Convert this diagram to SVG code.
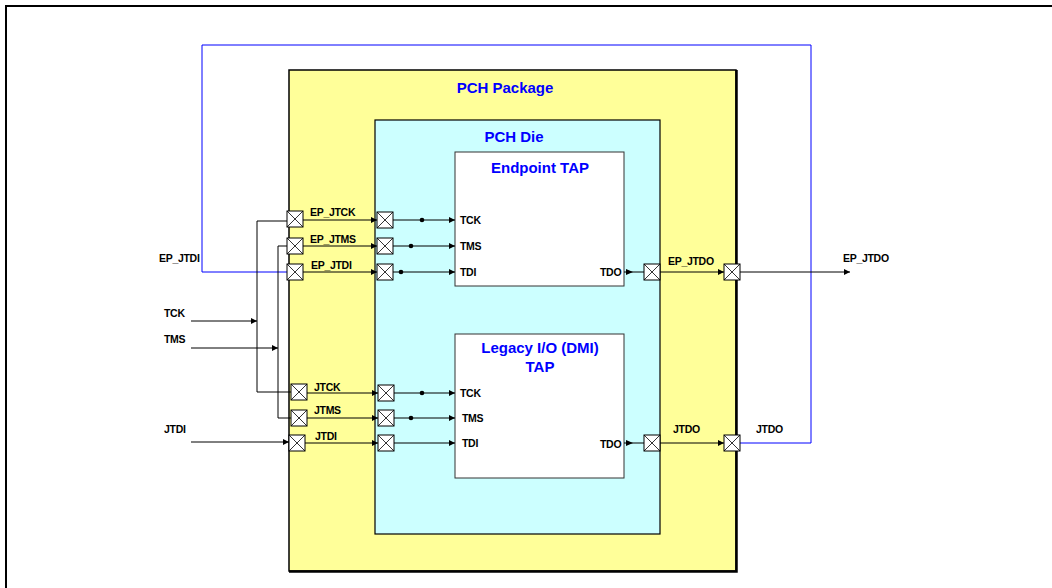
<svg xmlns="http://www.w3.org/2000/svg" width="1052" height="588" viewBox="0 0 1052 588">
<defs>
<marker id="ah" viewBox="0 0 10 10" refX="10" refY="5" markerWidth="8" markerHeight="6" markerUnits="userSpaceOnUse" orient="auto"><path d="M0,0 L10,5 L0,10 z" fill="#000"/></marker>
<g id="pad"><rect x="-8" y="-8" width="16" height="16" fill="#fff" stroke="#000" stroke-width="1"/><path d="M-8,-8 L8,8 M8,-8 L-8,8" stroke="#000" stroke-width="0.8"/></g>
</defs>
<style>
.t{font-family:"Liberation Sans",Arial,sans-serif;font-weight:bold;font-size:10.5px;fill:#000;letter-spacing:-0.3px}
.h{font-family:"Liberation Sans",Arial,sans-serif;font-weight:bold;font-size:15px;fill:#0000ff;text-anchor:middle}
.w{stroke:#000;stroke-width:1;fill:none}
.b{stroke:#0000ff;stroke-width:1;fill:none}
.a{marker-end:url(#ah)}
</style>
<rect width="1052" height="588" fill="#fff"/>
<path d="M6,588 V6 H1052" fill="none" stroke="#000" stroke-width="2"/>

<g id="pch-package">
<rect x="289" y="70" width="447" height="501" fill="#ffff99" stroke="#000" stroke-width="1.5"/>
<path d="M289,571.5 H736.5 V70" fill="none" stroke="#000" stroke-width="2.5"/>
<text class="h" x="505" y="93">PCH Package</text>
</g>
<g id="pch-die">
<rect x="375" y="120" width="285" height="414" fill="#ccffff" stroke="#000" stroke-width="1.2"/>
<text class="h" x="514" y="142">PCH Die</text>
</g>
<g id="endpoint-tap">
<rect x="455" y="152" width="169" height="134" fill="#fff" stroke="#333" stroke-width="1"/>
<text class="h" x="540" y="173">Endpoint TAP</text>
<text class="t" x="460" y="224">TCK</text>
<text class="t" x="460" y="250">TMS</text>
<text class="t" x="460" y="276">TDI</text>
<text class="t" x="600" y="276">TDO</text>
</g>
<g id="legacy-tap">
<rect x="455" y="334" width="169" height="144" fill="#fff" stroke="#333" stroke-width="1"/>
<text class="h" x="540" y="353">Legacy I/O (DMI)</text>
<text class="h" x="540" y="372">TAP</text>
<text class="t" x="460" y="397">TCK</text>
<text class="t" x="462" y="422">TMS</text>
<text class="t" x="462" y="447">TDI</text>
<text class="t" x="600" y="448">TDO</text>
</g>

<g id="connectors">
<path class="b" d="M287,272 H202 V45 H811 V443 H740"/>
<path class="w a" d="M191,321 H257"/>
<path class="w a" d="M191,348 H278"/>
<path class="w a" d="M191,442 H289"/>
<path class="w" d="M287,221 H257 V392 H291"/>
<path class="w" d="M287,246 H278 V418 H291"/>
<path class="w a" d="M303,220 H377"/>
<path class="w a" d="M303,246 H377"/>
<path class="w a" d="M303,272 H377"/>
<path class="w a" d="M307,393 H378"/>
<path class="w a" d="M307,418 H378"/>
<path class="w a" d="M305,443 H378"/>
<path class="w a" d="M393,220 H455"/>
<path class="w a" d="M393,246 H455"/>
<path class="w a" d="M393,272 H455"/>
<path class="w a" d="M394,393 H455"/>
<path class="w a" d="M394,418 H455"/>
<path class="w a" d="M394,443 H455"/>
<circle cx="422" cy="220" r="2.3"/>
<circle cx="411" cy="246" r="2.3"/>
<circle cx="401" cy="272" r="2.3"/>
<circle cx="422" cy="393" r="2.3"/>
<circle cx="411" cy="418" r="2.3"/>
<path class="w" d="M624,272 H644"/>
<path d="M626,269 L633,272 L626,275 z"/>
<path class="w" d="M624,443 H644"/>
<path d="M626,440 L633,443 L626,446 z"/>
<path class="w a" d="M660,272 H724"/>
<path class="w a" d="M660,443 H724"/>
<path class="w a" d="M740,272 H850"/>
</g>

<g id="pads">
<use href="#pad" x="295" y="219"/>
<use href="#pad" x="295" y="246"/>
<use href="#pad" x="295" y="272"/>
<use href="#pad" x="299" y="392"/>
<use href="#pad" x="299" y="418"/>
<use href="#pad" x="297" y="443"/>
<use href="#pad" x="385" y="220"/>
<use href="#pad" x="385" y="246"/>
<use href="#pad" x="385" y="272"/>
<use href="#pad" x="386" y="393"/>
<use href="#pad" x="386" y="418"/>
<use href="#pad" x="386" y="443"/>
<use href="#pad" x="652" y="272"/>
<use href="#pad" x="652" y="443"/>
<use href="#pad" x="732" y="272"/>
<use href="#pad" x="732" y="443"/>
</g>

<g id="labels">
<text class="t" x="310" y="216">EP_JTCK</text>
<text class="t" x="310" y="243">EP_JTMS</text>
<text class="t" x="311" y="269">EP_JTDI</text>
<text class="t" x="314" y="391">JTCK</text>
<text class="t" x="314" y="414">JTMS</text>
<text class="t" x="315" y="440">JTDI</text>
<text class="t" x="159" y="262">EP_JTDI</text>
<text class="t" x="164" y="317">TCK</text>
<text class="t" x="164" y="343">TMS</text>
<text class="t" x="164" y="433">JTDI</text>
<text class="t" x="668" y="265">EP_JTDO</text>
<text class="t" x="843" y="262">EP_JTDO</text>
<text class="t" x="673" y="433">JTDO</text>
<text class="t" x="756" y="433">JTDO</text>
</g>
</svg>
